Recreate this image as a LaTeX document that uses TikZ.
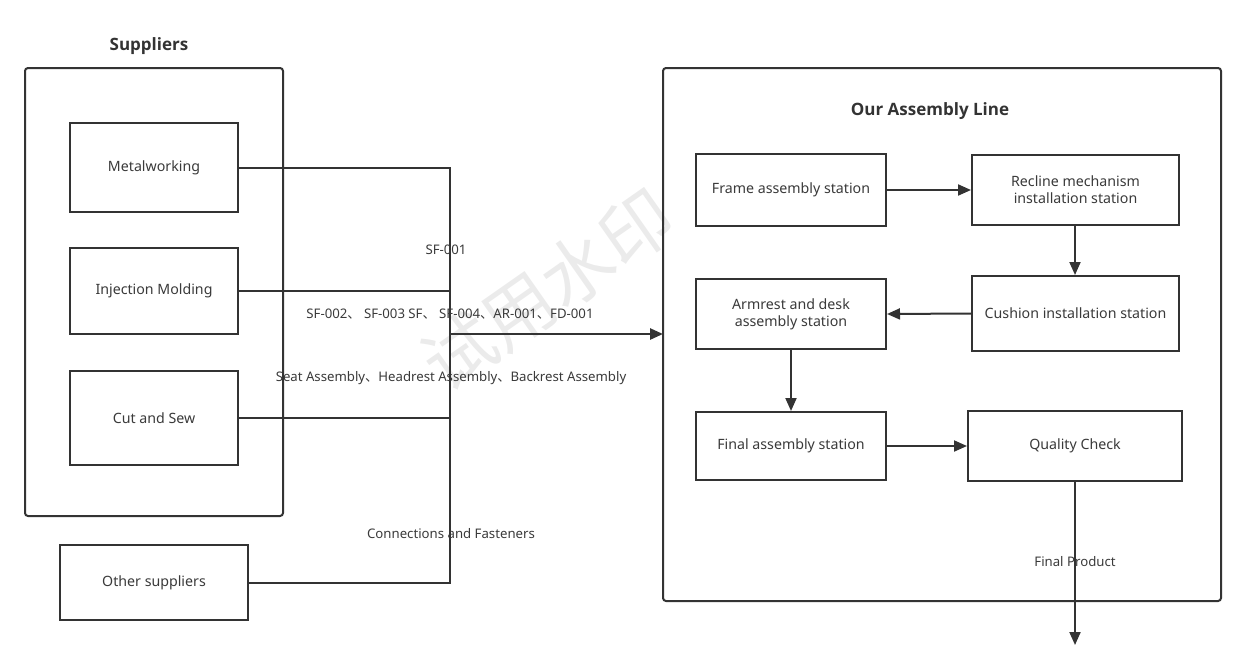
\documentclass[tikz,border=0pt]{standalone}
\usepackage{fontspec}
\setmainfont{Noto Sans}
\newfontfamily\cjk{Noto Sans CJK SC}
\newfontfamily\ttlfont{Open Sans}
\usetikzlibrary{arrows.meta,positioning}
\definecolor{ln}{HTML}{333333}
\definecolor{tx}{HTML}{3a3a3a}
\newcommand\dun{{\cjk 、}}
\tikzset{
  box/.style={draw=ln, line width=2pt, fill=white, align=center, text=tx, font=\fontsize{14.2}{17}\selectfont, inner sep=2pt},
  frame/.style={draw=ln, line width=2pt, rounded corners=3pt},
  conn/.style={draw=ln, line width=2pt},
  arr/.style={conn, -{Triangle[length=13pt,width=11pt]}},
  lbl/.style={text=tx, font=\fontsize{13.2}{15}\selectfont, inner sep=1.5pt},
  ttl/.style={text=ln, font=\ttlfont\bfseries\fontsize{17}{20}\selectfont},
}
\begin{document}
\begin{tikzpicture}[x=1pt,y=-1pt]
\useasboundingbox (0,0) rectangle (1246,665);
% watermark
\node[text=black!8, font=\cjk\fontsize{72}{72}\selectfont, rotate=35] (wm) at (548,290) {试用水印};
% frames
\draw[frame] (25,68) rectangle (283,516);
\draw[frame] (663,68) rectangle (1221,601);
\node[ttl] (tsup) at (149,46) {Suppliers};
\node[ttl] (tasm) at (930,111) {Our Assembly Line};
% supplier boxes
\node[box, minimum width=168pt, minimum height=89pt] (metal) at (154,167.5) {Metalworking};
\node[box, minimum width=168pt, minimum height=86pt] (inj) at (154,291) {Injection Molding};
\node[box, minimum width=168pt, minimum height=94pt] (cut) at (154,418) {Cut and Sew};
\node[box, minimum width=188pt, minimum height=75pt] (oth) at (154,582.5) {Other suppliers};
% bus
\coordinate (b1) at (450,167.5);
\coordinate (b2) at (450,291);
\coordinate (b3) at (450,418);
\coordinate (b4) at (450,582.5);
\coordinate (bm) at (450,334);
\draw[conn] (metal.east) -- (b1) -- (b4) -- (oth.east);
\draw[conn] (inj.east) -- (b2);
\draw[conn] (cut.east) -- (b3);
\node[lbl] (l1) at (446,250) {SF-001};
\node[lbl] (l2) at (450,314) {SF-002\dun{} SF-003 SF\dun{} SF-004\dun AR-001\dun FD-001};
\node[lbl] (l3) at (451,378) {Seat Assembly\dun Headrest Assembly\dun Backrest Assembly};
\node[lbl] (l4) at (451,534) {Connections and Fasteners};
\draw[arr, line width=2.6pt] (bm) -- (663,334) coordinate (ain);
% assembly stations
\node[box, minimum width=190pt, minimum height=72pt] (frm) at (791,190) {Frame assembly station};
\node[box, minimum width=207pt, minimum height=70pt] (rec) at (1075.5,190) {Recline mechanism\\installation station};
\node[box, minimum width=207pt, minimum height=75pt] (cus) at (1075.5,313.5) {Cushion installation station};
\node[box, minimum width=190pt, minimum height=70pt] (arm) at (791,314) {Armrest and desk\\assembly station};
\node[box, minimum width=190pt, minimum height=68pt] (fin) at (791,446) {Final assembly station};
\node[box, minimum width=214pt, minimum height=70pt] (qc) at (1075,446) {Quality Check};
\coordinate (out) at (1075,645);
\draw[arr] (frm.east) -- (rec.west |- frm.east);
\draw[arr] (rec.south -| qc.south) -- (cus.north -| qc.south);
\draw[arr] (cus.west) -- (arm.east);
\draw[arr] (arm.south) -- (fin.north);
\draw[arr] (fin.east) -- (qc.west);
\draw[arr] (qc.south) -- (out);
\node[lbl] (l5) at (1075,562) {Final Product};
\end{tikzpicture}
\end{document}
